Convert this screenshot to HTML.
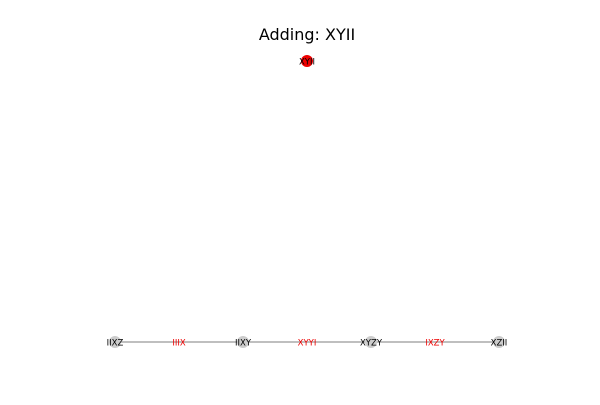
<!DOCTYPE html>
<html><head><meta charset="utf-8"><style>
body{margin:0;background:#fff;width:600px;height:400px;overflow:hidden}
text{font-family:"DejaVu Sans","Liberation Sans",sans-serif}
</style></head><body>
<svg id="c" width="600" height="400">
<text x="307" y="40" text-anchor="middle" font-size="16" fill="#000">Adding: XYII</text>
</svg>
<script>
const nodeLabels=["IIXZ","IIIX","IIXY","XYYI","XYZY","IXZY","XZII"];
const nodeKinds=["node","gap","node","gap","node","gap","node"];
const newNode="XYII";
const s=document.getElementById('c'),NS="http://www.w3.org/2000/svg";
const x0=115,x1=499,yL=342;
const xs=i=>x0+(x1-x0)*i/(nodeLabels.length-1);
function mk(t,a){const e=document.createElementNS(NS,t);for(const k in a)e.setAttribute(k,a[k]);s.appendChild(e);return e;}
const ln=mk('line',{x1:xs(0),x2:xs(nodeLabels.length-1),y1:yL,y2:yL,stroke:'#aaa','stroke-width':1.5});


nodeLabels.forEach((l,i)=>{
 const isNode=nodeKinds[i]==="node";
 if(isNode){const c=mk('circle',{cx:xs(i),cy:yL,r:6,fill:'#ccc'});
  
  }
 const t=mk('text',{x:xs(i),y:yL+3.5,'text-anchor':'middle','font-size':8.5,fill:isNode?'#000':'#e00'});
 t.textContent=l;
 
 
});
const rc=mk('circle',{cx:307,cy:61,r:6,fill:'#e00'});


const rt=mk('text',{x:307,y:64.5,'text-anchor':'middle','font-size':8.5,fill:'#000'});
rt.textContent=newNode;


</script>
</body></html>
